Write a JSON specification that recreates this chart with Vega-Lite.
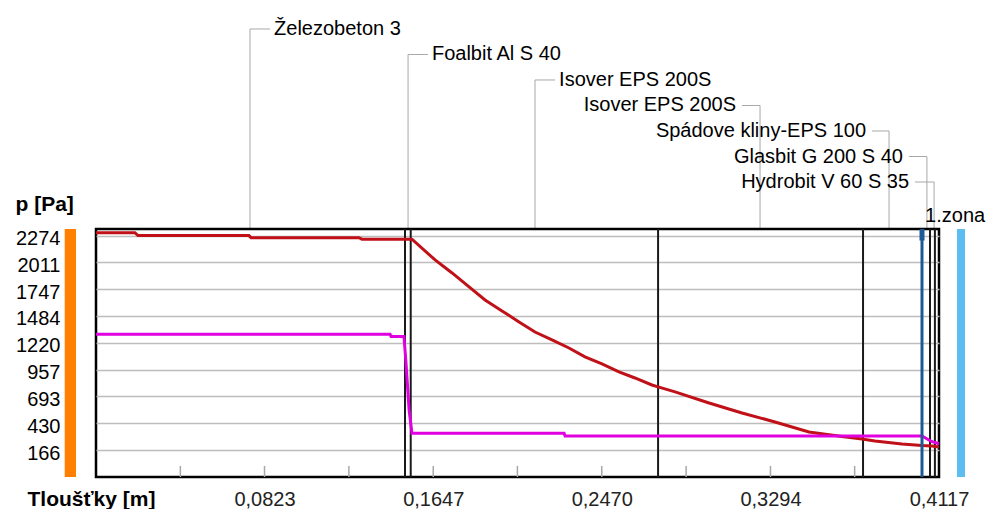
{
  "$schema": "https://vega.github.io/schema/vega-lite/v6.json",
  "background": "white",
  "padding": {"left": 13, "top": 0, "right": 0, "bottom": 0},
  "spacing": 0,
  "bounds": "flush",
  "config": {
    "font": "Liberation Sans",
    "view": {"stroke": "black", "strokeWidth": 2.5},
    "concat": {"spacing": 0}
  },
  "datasets": {
    "labels": [
      {"name": "Železobeton 3", "lx": 0.0752, "tx": 0.0850, "level": 1, "side": "r"},
      {"name": "Foalbit Al S 40", "lx": 0.1524, "tx": 0.1621, "level": 2, "side": "r"},
      {"name": "Isover EPS 200S", "lx": 0.2144, "tx": 0.2242, "level": 3, "side": "r"},
      {"name": "Isover EPS 200S", "lx": 0.3243, "tx": 0.3155, "level": 4, "side": "l"},
      {"name": "Spádove kliny-EPS 100", "lx": 0.3873, "tx": 0.3790, "level": 5, "side": "l"},
      {"name": "Glasbit G 200 S 40", "lx": 0.4058, "tx": 0.3970, "level": 6, "side": "l"},
      {"name": "Hydrobit V 60 S 35", "lx": 0.4093, "tx": 0.4000, "level": 7, "side": "l"}
    ],
    "psat": [
      {"x": 0, "p": 2302}, {"x": 0.019, "p": 2302}, {"x": 0.0205, "p": 2273}, {"x": 0.0747, "p": 2273},
      {"x": 0.0757, "p": 2253}, {"x": 0.1284, "p": 2253}, {"x": 0.1299, "p": 2238}, {"x": 0.1543, "p": 2238},
      {"x": 0.1656, "p": 2034}, {"x": 0.1739, "p": 1906}, {"x": 0.1822, "p": 1769}, {"x": 0.19, "p": 1641},
      {"x": 0.1983, "p": 1533}, {"x": 0.2066, "p": 1425}, {"x": 0.2144, "p": 1326}, {"x": 0.2227, "p": 1248},
      {"x": 0.231, "p": 1169}, {"x": 0.2388, "p": 1081}, {"x": 0.2471, "p": 1012}, {"x": 0.2554, "p": 933},
      {"x": 0.2632, "p": 874}, {"x": 0.2715, "p": 805}, {"x": 0.2745, "p": 786}, {"x": 0.2828, "p": 737},
      {"x": 0.2994, "p": 628}, {"x": 0.3155, "p": 530}, {"x": 0.3316, "p": 442}, {"x": 0.3482, "p": 343},
      {"x": 0.3643, "p": 300}, {"x": 0.3741, "p": 275}, {"x": 0.3804, "p": 255}, {"x": 0.3936, "p": 225},
      {"x": 0.4034, "p": 210}, {"x": 0.4083, "p": 206}, {"x": 0.4117, "p": 196}
    ],
    "pv": [
      {"x": 0, "p": 1304}, {"x": 0.1436, "p": 1304}, {"x": 0.1441, "p": 1282}, {"x": 0.1504, "p": 1282},
      {"x": 0.1514, "p": 1022}, {"x": 0.1529, "p": 560}, {"x": 0.1543, "p": 331}, {"x": 0.2286, "p": 331},
      {"x": 0.2291, "p": 304}, {"x": 0.4034, "p": 304}, {"x": 0.408, "p": 250}, {"x": 0.4117, "p": 228}
    ],
    "bounds": [{"x": 0.1509}, {"x": 0.1537}, {"x": 0.2745}, {"x": 0.3746}, {"x": 0.4073}, {"x": 0.4097}],
    "ticks": [{"x": 0.0412}, {"x": 0.0823}, {"x": 0.1235}, {"x": 0.1647}, {"x": 0.2058}, {"x": 0.247}, {"x": 0.2882}, {"x": 0.3294}, {"x": 0.3705}],
    "one": [{}]
  },
  "vconcat": [
    {
      "width": 843,
      "height": 229,
      "view": {"stroke": null, "fill": "white"},
      "layer": [
        {
          "data": {"name": "labels"},
          "mark": {"type": "rule", "color": "#a8a8a8", "strokeWidth": 1},
          "encoding": {
            "x": {"field": "lx", "type": "quantitative", "scale": {"domain": [0, 0.4117], "nice": false, "zero": false}, "axis": null},
            "y": {"field": "level", "type": "quantitative", "scale": {"domain": [-0.137, 8.843], "reverse": true, "nice": false, "zero": false}, "axis": null},
            "y2": {"datum": 8.843}
          }
        },
        {
          "data": {"name": "labels"},
          "mark": {"type": "rule", "color": "#a8a8a8", "strokeWidth": 1},
          "encoding": {
            "x": {"field": "tx", "type": "quantitative", "axis": null},
            "x2": {"field": "lx"},
            "y": {"field": "level", "type": "quantitative", "axis": null}
          }
        },
        {
          "data": {"name": "labels"},
          "transform": [{"filter": "datum.side === 'r'"}],
          "mark": {"type": "text", "align": "left", "baseline": "middle", "dx": 4, "fontSize": 20, "color": "black"},
          "encoding": {
            "x": {"field": "tx", "type": "quantitative", "axis": null},
            "y": {"field": "level", "type": "quantitative", "axis": null},
            "text": {"field": "name"}
          }
        },
        {
          "data": {"name": "labels"},
          "transform": [{"filter": "datum.side === 'l'"}],
          "mark": {"type": "text", "align": "right", "baseline": "middle", "dx": -6, "fontSize": 20, "color": "black"},
          "encoding": {
            "x": {"field": "tx", "type": "quantitative", "axis": null},
            "y": {"field": "level", "type": "quantitative", "axis": null},
            "text": {"field": "name"}
          }
        },
        {
          "data": {"values": [{"name": "1.zona", "tx": 0.4049, "level": 8.33}]},
          "mark": {"type": "text", "align": "left", "baseline": "middle", "fontSize": 20, "color": "black"},
          "encoding": {
            "x": {"field": "tx", "type": "quantitative", "axis": null},
            "y": {"field": "level", "type": "quantitative", "axis": null},
            "text": {"field": "name"}
          }
        }
      ]
    },
    {
      "width": 843,
      "height": 248,
      "layer": [
        {
          "data": {"name": "one"},
          "mark": {"type": "rect", "color": "#ff8000"},
          "encoding": {
            "x": {"datum": -0.01528, "type": "quantitative"},
            "x2": {"datum": -0.00977},
            "y": {"datum": -99, "type": "quantitative"},
            "y2": {"datum": 2338}
          }
        },
        {
          "data": {"name": "one"},
          "mark": {"type": "rect", "color": "#5bbdf0"},
          "encoding": {
            "x": {"datum": 0.4205, "type": "quantitative"},
            "x2": {"datum": 0.4244},
            "y": {"datum": -99, "type": "quantitative"},
            "y2": {"datum": 2338}
          }
        },
        {
          "data": {"name": "ticks"},
          "mark": {"type": "rule", "color": "#a8a8a8", "strokeWidth": 1.5},
          "encoding": {
            "x": {"field": "x", "type": "quantitative"},
            "y": {"datum": -99, "type": "quantitative"},
            "y2": {"datum": 10}
          }
        },
        {
          "data": {"name": "bounds"},
          "mark": {"type": "rule", "color": "#1a1a1a", "strokeWidth": 2},
          "encoding": {
            "x": {"field": "x", "type": "quantitative"}
          }
        },
        {
          "data": {"name": "psat"},
          "mark": {"type": "line", "color": "#c01018", "strokeWidth": 3},
          "encoding": {
            "x": {
              "field": "x", "type": "quantitative",
              "scale": {"domain": [0, 0.4117], "nice": false, "zero": false},
              "axis": {
                "values": [0.0823, 0.1647, 0.247, 0.3294, 0.4117],
                "tickCount": 20,
                "labelExpr": "replace(format(datum.value, '.4f'), '.', ',')",
                "labelFontSize": 20, "labelColor": "#222222", "labelPadding": 28, "labelBaseline": "alphabetic",
                "labelFlush": false, "labelOverlap": false,
                "ticks": false, "tickSize": 0, "domain": false, "grid": false,
                "title": "Tloušťky [m]", "titleX": -69, "titleY": 28, "titleAlign": "left", "titleBaseline": "alphabetic",
                "titleFontSize": 21, "titleFontWeight": "bold", "titleColor": "black"
              }
            },
            "y": {
              "field": "p", "type": "quantitative",
              "scale": {"domain": [-99, 2338], "nice": false, "zero": false},
              "axis": {
                "values": [166, 430, 693, 957, 1220, 1484, 1747, 2011, 2274],
                "tickCount": 20,
                "format": "d",
                "labelFontSize": 20, "labelColor": "black", "labelPadding": 36, "labelOffset": 3,
                "labelOverlap": false, "labelFlush": false,
                "ticks": false, "tickSize": 0, "domain": false,
                "grid": true, "gridColor": "#bdbdbd", "gridWidth": 1.5,
                "title": "p [Pa]", "titleAngle": 0, "titleX": -81, "titleY": -19, "titleAlign": "left", "titleBaseline": "alphabetic",
                "titleFontSize": 21, "titleFontWeight": "bold", "titleColor": "black"
              }
            }
          }
        },
        {
          "data": {"name": "pv"},
          "mark": {"type": "line", "color": "#e000e0", "strokeWidth": 3},
          "encoding": {
            "x": {"field": "x", "type": "quantitative"},
            "y": {"field": "p", "type": "quantitative"}
          }
        },
        {
          "data": {"name": "one"},
          "mark": {"type": "rule", "color": "#1c5a96", "strokeWidth": 3},
          "encoding": {
            "x": {"datum": 0.4034, "type": "quantitative"}
          }
        },
        {
          "data": {"name": "one"},
          "mark": {"type": "rule", "color": "#1c5a96", "strokeWidth": 5},
          "encoding": {
            "x": {"datum": 0.4034, "type": "quantitative"},
            "y": {"datum": 2338, "type": "quantitative"},
            "y2": {"datum": 2225}
          }
        }
      ]
    }
  ]
}
